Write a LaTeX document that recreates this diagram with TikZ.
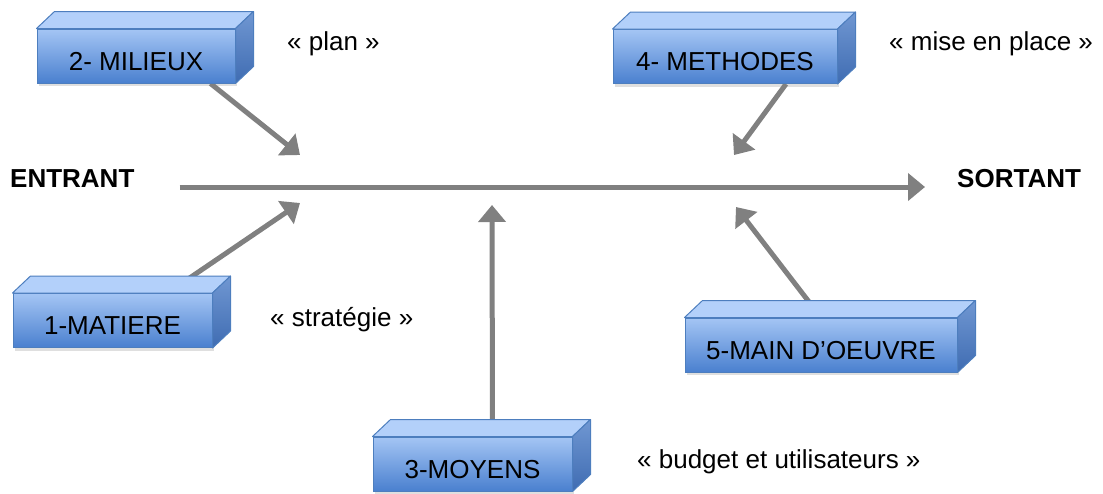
\documentclass[tikz,border=0pt]{standalone}
\usepackage{fontspec}
\setmainfont{Liberation Sans}
\usetikzlibrary{arrows.meta,shadows,backgrounds}
\definecolor{boxtop}{HTML}{B3D0FA}
\definecolor{boxhi}{HTML}{A4C5F4}
\definecolor{boxlo}{HTML}{4A80CF}
\definecolor{sidehi}{HTML}{7097D2}
\definecolor{sidelo}{HTML}{3F6CB2}
\definecolor{boxline}{HTML}{4D7EBE}
\definecolor{arrowgray}{HTML}{808080}

\begin{document}
\begin{tikzpicture}[x=1pt,y=-1pt,
    front/.style={draw=boxline,line width=1pt,top color=boxhi,bottom color=boxlo,
      minimum height=54pt,inner sep=0pt,text height=28pt,text depth=0pt,
      font=\fontsize{26}{30}\selectfont,
      drop shadow={opacity=0.25,shadow xshift=2pt,shadow yshift=-3pt}},
    topface/.style={draw=boxline,line width=1pt,fill=boxtop,line join=round},
    sideface/.style={draw=boxline,line width=1pt,top color=sidehi,bottom color=sidelo,line join=round},
    word/.style={font=\fontsize{26}{30}\selectfont,anchor=base west,inner sep=0pt},
    bigword/.style={font=\fontsize{26}{30}\selectfont\bfseries,anchor=base west,inner sep=0pt},
    arrow/.style={draw=arrowgray,line width=5pt,-{Triangle[length=17pt,width=27pt]}}]
  \useasboundingbox (0,0) rectangle (1103,493);

  \node[front,minimum width=198pt] (milieux) at (136,56) {2- MILIEUX};
  \node[front,minimum width=199pt] (matiere) at (112.5,320.5) {1-MATIERE};
  \node[front,minimum width=199pt] (moyens) at (472.5,464) {3-MOYENS};
  \node[front,minimum width=224pt] (methodes) at (725,56.5) {4- METHODES};
  \node[front,minimum width=272pt] (oeuvre) at (821,345) {5-MAIN D’OEUVRE};

  \draw[topface] (milieux.north west) -- ([xshift=18pt,yshift=17pt]milieux.north west) -- ([xshift=18pt,yshift=17pt]milieux.north east) -- (milieux.north east) -- cycle;
  \draw[sideface] (milieux.north east) -- ([xshift=18pt,yshift=17pt]milieux.north east) -- ([xshift=18pt,yshift=17pt]milieux.south east) -- (milieux.south east) -- cycle;
  \draw[topface] (matiere.north west) -- ([xshift=18pt,yshift=17pt]matiere.north west) -- ([xshift=18pt,yshift=17pt]matiere.north east) -- (matiere.north east) -- cycle;
  \draw[sideface] (matiere.north east) -- ([xshift=18pt,yshift=17pt]matiere.north east) -- ([xshift=18pt,yshift=17pt]matiere.south east) -- (matiere.south east) -- cycle;
  \draw[topface] (moyens.north west) -- ([xshift=18pt,yshift=17pt]moyens.north west) -- ([xshift=18pt,yshift=17pt]moyens.north east) -- (moyens.north east) -- cycle;
  \draw[sideface] (moyens.north east) -- ([xshift=18pt,yshift=17pt]moyens.north east) -- ([xshift=18pt,yshift=17pt]moyens.south east) -- (moyens.south east) -- cycle;
  \draw[topface] (methodes.north west) -- ([xshift=18pt,yshift=17pt]methodes.north west) -- ([xshift=18pt,yshift=17pt]methodes.north east) -- (methodes.north east) -- cycle;
  \draw[sideface] (methodes.north east) -- ([xshift=18pt,yshift=17pt]methodes.north east) -- ([xshift=18pt,yshift=17pt]methodes.south east) -- (methodes.south east) -- cycle;
  \draw[topface] (oeuvre.north west) -- ([xshift=18pt,yshift=17pt]oeuvre.north west) -- ([xshift=18pt,yshift=17pt]oeuvre.north east) -- (oeuvre.north east) -- cycle;
  \draw[sideface] (oeuvre.north east) -- ([xshift=18pt,yshift=17pt]oeuvre.north east) -- ([xshift=18pt,yshift=17pt]oeuvre.south east) -- (oeuvre.south east) -- cycle;

  \node[bigword] (entrant) at (10,187) {ENTRANT};
  \node[bigword] (sortant) at (957,187) {SORTANT};
  \node[word] (plan) at (287,50) {« plan »};
  \node[word] (miseenplace) at (889,50) {« mise en place »};
  \node[word] (strategie) at (270,326) {« stratégie »};
  \node[word] (budget) at (637,468) {« budget et utilisateurs »};

  \coordinate (milieuxtip) at (300,155);
  \coordinate (matieretip) at (300,203);
  \coordinate (moyenstip) at (492,205);
  \coordinate (methodestip) at (734,155);
  \coordinate (oeuvretip) at (736,207);

  \begin{scope}[on background layer]
    \draw[arrow] ([xshift=45pt]entrant.base east) -- ([xshift=-32pt]sortant.base west);
    \draw[arrow] ([xshift=-25pt]milieux.south east) -- (milieuxtip);
    \draw[arrow] ([xshift=-45pt]matiere.north east) -- (matieretip);
    \draw[arrow] ([xshift=20pt]moyens.north) -- (moyenstip);
    \draw[arrow] ([xshift=61pt]methodes.south) -- (methodestip);
    \draw[arrow] (oeuvre.north) -- (oeuvretip);
  \end{scope}
\end{tikzpicture}
\end{document}
